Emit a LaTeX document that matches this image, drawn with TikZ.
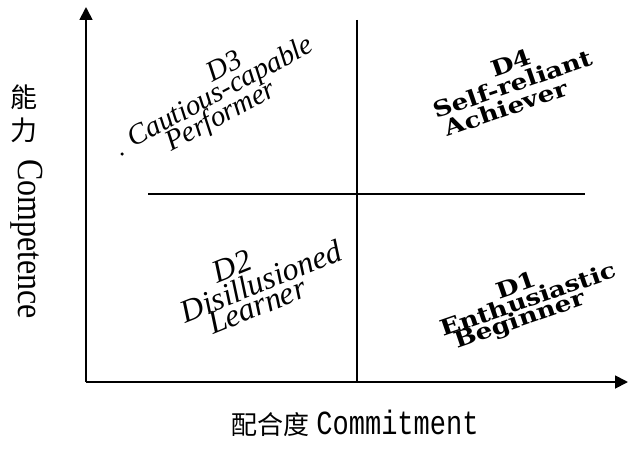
\documentclass[tikz,border=0pt]{standalone}
\usepackage{fontspec}
\setmainfont{Liberation Serif}
\newfontfamily\cjkfont{Noto Sans CJK TC}
\newfontfamily\slabfont{DejaVu Serif}
\newfontfamily\monofont{Liberation Mono}
\usetikzlibrary{arrows.meta}
\newcommand{\wide}[1]{\scalebox{1.2}[1]{#1}}
\begin{document}
\begin{tikzpicture}[x=1pt,y=-1pt,
  axisline/.style={line width=1.8pt,-{Triangle[length=13pt,width=13pt]}},
  divider/.style={line width=1.3pt},
  lbl/.style={inner sep=0pt,outer sep=0pt},
  dthree/.style={lbl,font=\itshape\fontsize{29}{29}\selectfont,rotate=28},
  dtwo/.style={lbl,font=\itshape\fontsize{32}{32}\selectfont,rotate=22},
  dbold/.style={lbl,font=\slabfont\bfseries\fontsize{22}{22}\selectfont,rotate=19},
  cjklbl/.style={lbl,font=\cjkfont\fontsize{27}{27}\selectfont},
]
\useasboundingbox (0,0) rectangle (631,452);
% axes
\coordinate (O) at (86,382);
\coordinate (ytip) at (86,7);
\coordinate (xtip) at (628,382);
\draw[axisline] (O) -- (ytip);
\draw[axisline] (O) -- (xtip);
% dividers
\coordinate (vtop) at (357,20);
\coordinate (vbot) at (357,382);
\coordinate (hleft) at (148,194);
\coordinate (hright) at (585,194);
\draw[divider] (vtop) -- (vbot);
\draw[divider] (hleft) -- (hright);
% D3
\node[dthree] (d3a) at (224,66) {D3};
\node[dthree] (d3b) at (221,93) {Cautious-capable};
\node[dthree] (d3c) at (221,117) {Performer};
\node[circle,fill,inner sep=0pt,minimum size=3.5pt] (dot) at (122,154) {};
% D4
\node[dbold] (d4a) at (511,63) {\wide{D4}};
\node[dbold] (d4b) at (513,84) {\wide{Self-reliant}};
\node[dbold] (d4c) at (506,108) {\wide{Achiever}};
% D2
\node[dtwo] (d2a) at (232,266) {D2};
\node[dtwo] (d2b) at (261,281) {Disillusioned};
\node[dtwo] (d2c) at (257,306) {Learner};
% D1
\node[dbold] (d1a) at (516,285) {\wide{D1}};
\node[dbold] (d1b) at (528,299) {\wide{Enthusiastic}};
\node[dbold] (d1c) at (520,321) {\wide{Beginner}};
% axis labels
\node[cjklbl] (neng) at (24,97) {能};
\node[cjklbl] (li) at (24,130) {力};
\node[lbl,rotate=-90,font=\fontsize{32}{32}\selectfont] (comp) at (27,239) {\scalebox{1}[1.15]{Competence}};
\node[lbl] (commit) at (355,423) {{\cjkfont\fontsize{26}{26}\selectfont 配合度}\hspace{7pt}{\monofont\fontsize{27}{27}\selectfont\scalebox{1}[1.25]{Commitment}}};
\end{tikzpicture}
\end{document}
